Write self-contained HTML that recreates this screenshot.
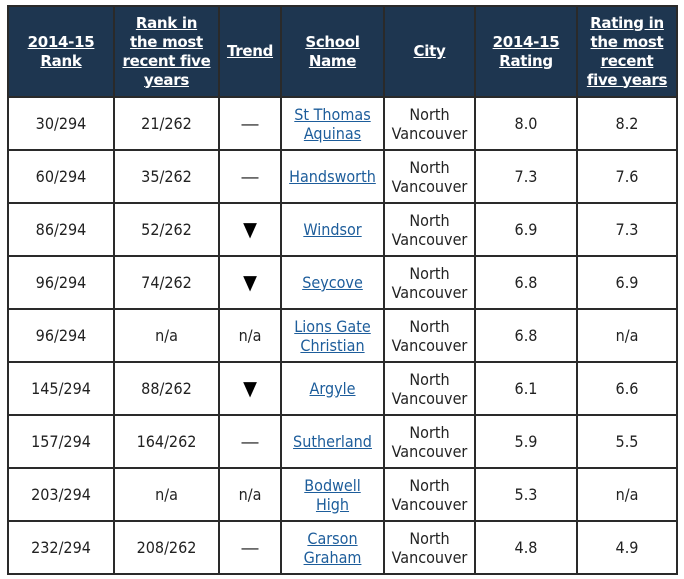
<!DOCTYPE html>
<html><head><meta charset="utf-8"><style>
html,body{margin:0;padding:0;background:#fff;width:684px;height:579px;overflow:hidden}
table{position:absolute;left:7px;top:5px;border-collapse:collapse;table-layout:fixed;width:669px;font-family:"DejaVu Sans Condensed","DejaVu Sans","Liberation Sans",sans-serif}
td,th{border:2px solid #2a2a2a;text-align:center;vertical-align:middle;padding:0;font-size:16px;color:#222;line-height:19px}
th{background:#1e3650;color:#fff;font-weight:bold;height:89px;font-family:"DejaVu Sans","Liberation Sans",sans-serif;font-size:15px;line-height:19px;text-decoration:underline;letter-spacing:-0.3px}
td{height:51px}
a{color:#1d5d9b;text-decoration:underline}
.tri{font-size:20px;color:#000}
.d{color:#111;font-family:"Liberation Sans",sans-serif;font-size:17px}
</style></head><body>
<table>
<colgroup><col style="width:106px"><col style="width:105px"><col style="width:62px"><col style="width:103px"><col style="width:91px"><col style="width:102px"><col style="width:100px"></colgroup>
<tr><th>2014-15<br>Rank</th><th>Rank in<br>the most<br>recent five<br>years</th><th>Trend</th><th>School<br>Name</th><th>City</th><th>2014-15<br>Rating</th><th>Rating in<br>the most<br>recent<br>five years</th></tr>
<tr><td>30/294</td><td>21/262</td><td class="d">—</td><td><a>St Thomas<br>Aquinas</a></td><td>North<br>Vancouver</td><td>8.0</td><td>8.2</td></tr>
<tr><td>60/294</td><td>35/262</td><td class="d">—</td><td><a>Handsworth</a></td><td>North<br>Vancouver</td><td>7.3</td><td>7.6</td></tr>
<tr><td>86/294</td><td>52/262</td><td class="tri">▼</td><td><a>Windsor</a></td><td>North<br>Vancouver</td><td>6.9</td><td>7.3</td></tr>
<tr><td>96/294</td><td>74/262</td><td class="tri">▼</td><td><a>Seycove</a></td><td>North<br>Vancouver</td><td>6.8</td><td>6.9</td></tr>
<tr><td>96/294</td><td>n/a</td><td>n/a</td><td><a>Lions Gate<br>Christian</a></td><td>North<br>Vancouver</td><td>6.8</td><td>n/a</td></tr>
<tr><td>145/294</td><td>88/262</td><td class="tri">▼</td><td><a>Argyle</a></td><td>North<br>Vancouver</td><td>6.1</td><td>6.6</td></tr>
<tr><td>157/294</td><td>164/262</td><td class="d">—</td><td><a>Sutherland</a></td><td>North<br>Vancouver</td><td>5.9</td><td>5.5</td></tr>
<tr><td>203/294</td><td>n/a</td><td>n/a</td><td><a>Bodwell<br>High</a></td><td>North<br>Vancouver</td><td>5.3</td><td>n/a</td></tr>
<tr><td>232/294</td><td>208/262</td><td class="d">—</td><td><a>Carson<br>Graham</a></td><td>North<br>Vancouver</td><td>4.8</td><td>4.9</td></tr>
</table>
</body></html>
